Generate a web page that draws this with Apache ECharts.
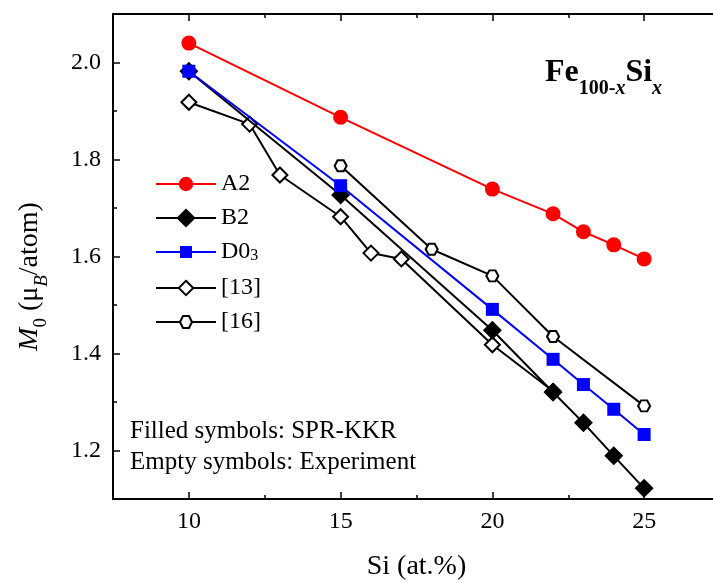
<!DOCTYPE html>
<html>
<head>
<meta charset="utf-8">
<title>Fe-Si moment</title>
<script src="https://cdn.jsdelivr.net/npm/echarts@6/dist/echarts.min.js"></script>
<style>
  html, body { margin: 0; padding: 0; background: #fff; }
  #main { width: 713px; height: 583px; }
</style>
</head>
<body>
<div id="main"></div>
<script>
// values
var xA2 = [10, 15, 20, 22, 23, 24, 25];
var yA2 = [2.040, 1.887, 1.739, 1.688, 1.651, 1.624, 1.595];
var xB2 = [10, 15, 20, 22, 23, 24, 25];
var yB2 = [1.982, 1.727, 1.448, 1.320, 1.257, 1.189, 1.122];
var xD03 = [10, 15, 20, 22, 23, 24, 25];
var yD03 = [1.982, 1.746, 1.491, 1.388, 1.336, 1.285, 1.233];
var xRef13 = [10, 12, 13, 15, 16, 17, 20, 22];
var yRef13 = [1.918, 1.873, 1.768, 1.682, 1.607, 1.595, 1.418, 1.322];
var xRef16 = [15, 18, 20, 22, 25];
var yRef16 = [1.787, 1.615, 1.560, 1.435, 1.292];

var xTicks = [10, 15, 20, 25];
var xMinor = [12.5, 17.5, 22.5];
var yTicks = [1.2, 1.4, 1.6, 1.8, 2.0];
var yMinor = [1.3, 1.5, 1.7, 1.9];

var legendNames = ['A2', 'B2', 'D03', '[13]', '[16]'];

var FONT = '"Liberation Serif", "Times New Roman", serif';
var hexagon = 'path://M0,5L2.887,0L8.66,0L11.547,5L8.66,10L2.887,10Z';

function pairs(xs, ys) {
  return xs.map(function (x, i) { return [x, ys[i]]; });
}

function axis(kind, pos, ticks, len, main) {
  var a = {
    type: 'value',
    position: pos,
    min: kind === 'x' ? 7.5 : 1.1,
    max: kind === 'x' ? 27.5 : 2.1,
    axisLine: { show: main, onZero: false, lineStyle: { color: '#000', width: 2 } },
    axisTick: { show: true, inside: true, length: len, customValues: ticks,
                lineStyle: { color: '#000', width: 1.5 } },
    axisLabel: { show: false },
    splitLine: { show: false }
  };
  return a;
}

var xAxes = [
  axis('x', 'bottom', xTicks, 7, true),
  axis('x', 'bottom', xMinor, 4, false),
  axis('x', 'top', xTicks, 7, true),
  axis('x', 'top', xMinor, 4, false)
];
xAxes[0].axisLabel = { show: true, customValues: xTicks, margin: 11,
  fontFamily: FONT, fontSize: 24, color: '#000', lineHeight: 24 };
xAxes[0].name = 'Si (at.%)';
xAxes[0].nameLocation = 'middle';
xAxes[0].nameGap = 54;
xAxes[0].nameTextStyle = { fontFamily: FONT, fontSize: 28, color: '#000', lineHeight: 28 };

var yAxes = [
  axis('y', 'left', yTicks, 7, true),
  axis('y', 'left', yMinor, 4, false),
  axis('y', 'right', yTicks, 7, true),
  axis('y', 'right', yMinor, 4, false)
];
yAxes[0].axisLabel = { show: true, customValues: yTicks, margin: 12,
  fontFamily: FONT, fontSize: 24, color: '#000',
  formatter: function (v) { return v.toFixed(1); } };
yAxes[0].name = '{i|M}{s|0} (μ{si|B}/atom)';
yAxes[0].nameLocation = 'middle';
yAxes[0].nameGap = 62;
yAxes[0].nameRotate = 90;
yAxes[0].nameTextStyle = {
  fontFamily: FONT, fontSize: 28, color: '#000', lineHeight: 42,
  padding: [0, 40, 0, 0],
  rich: {
    i: { fontFamily: FONT, fontSize: 28, fontStyle: 'italic', color: '#000', lineHeight: 42 },
    s: { fontFamily: FONT, fontSize: 19, color: '#000', lineHeight: 19, verticalAlign: 'bottom' },
    si: { fontFamily: FONT, fontSize: 19, fontStyle: 'italic', color: '#000', lineHeight: 19, verticalAlign: 'bottom' }
  }
};

var open = { color: '#fff', borderColor: '#000', borderWidth: 2 };

var series = [
  { name: 'A2', type: 'line', data: pairs(xA2, yA2), symbol: 'circle', symbolSize: 15, z: 3,
    itemStyle: { color: '#ff0000' }, lineStyle: { color: '#ff0000', width: 2 } },
  { name: 'B2', type: 'line', data: pairs(xB2, yB2), symbol: 'diamond', symbolSize: 19, z: 3,
    itemStyle: { color: '#000' }, lineStyle: { color: '#000', width: 2 } },
  { name: 'D03', type: 'line', data: pairs(xD03, yD03), symbol: 'rect', symbolSize: 13, z: 4,
    itemStyle: { color: '#0000ff' }, lineStyle: { color: '#0000ff', width: 2 } },
  { name: '[13]', type: 'line', data: pairs(xRef13, yRef13), symbol: 'diamond', symbolSize: 15, z: 2,
    itemStyle: open, lineStyle: { color: '#000', width: 2 } },
  { name: '[16]', type: 'line', data: pairs(xRef16, yRef16), symbol: hexagon, symbolSize: [12, 11], z: 2,
    itemStyle: open, lineStyle: { color: '#000', width: 2 } }
];
series.forEach(function (s) { s.emphasis = { disabled: true }; });

// one legend per entry so each icon can have its own size
var legendY = [183, 217, 251, 287, 321];
var legendH = [18, 24, 15, 18, 15];
var legends = legendNames.map(function (n, i) {
  return {
    data: [n],
    left: 150,
    top: legendY[i] - 16,
    itemWidth: 60,
    itemHeight: legendH[i],
    selectedMode: false,
    formatter: function (name) { return name === 'D03' ? 'D0{s|3}' : name; },
    textStyle: {
      fontFamily: FONT, fontSize: 24, color: '#000', lineHeight: 24,
      rich: { s: { fontFamily: FONT, fontSize: 16, color: '#000', lineHeight: 16, verticalAlign: 'bottom' } }
    }
  };
});

var myChart = echarts.init(document.getElementById('main'));
var option = {
  animation: false,
  backgroundColor: '#fff',
  grid: { left: 113, top: 14, width: 607, height: 485, containLabel: false, outerBoundsMode: 'none' },
  title: {
    text: '{b|Fe}{s|100-}{si|x}{b|Si}{si|x}',
    left: 545, top: 47, padding: 0,
    textStyle: {
      rich: {
        b: { fontFamily: FONT, fontSize: 32, fontWeight: 'bold', color: '#000', lineHeight: 52 },
        s: { fontFamily: FONT, fontSize: 20, fontWeight: 'bold', color: '#000', lineHeight: 20, verticalAlign: 'bottom' },
        si: { fontFamily: FONT, fontSize: 20, fontStyle: 'italic', fontWeight: 'bold', color: '#000', lineHeight: 20, verticalAlign: 'bottom' }
      }
    }
  },
  legend: legends,
  xAxis: xAxes,
  yAxis: yAxes,
  series: series,
  graphic: [
    { type: 'text', x: 130, y: 431, style: { text: 'Filled symbols: SPR-KKR', font: '25px ' + FONT, fill: '#000', verticalAlign: 'middle' } },
    { type: 'text', x: 130, y: 462, style: { text: 'Empty symbols: Experiment', font: '25px ' + FONT, fill: '#000', verticalAlign: 'middle' } }
  ]
};
myChart.setOption(option);
</script>
</body>
</html>
